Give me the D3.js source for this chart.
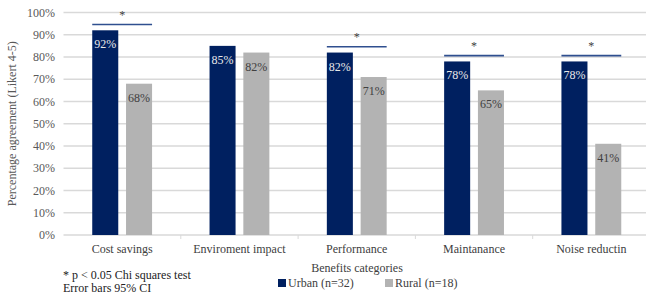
<!DOCTYPE html>
<html>
<head>
<meta charset="utf-8">
<script src="https://cdn.jsdelivr.net/npm/d3@7"></script>
<style>
  body { margin: 0; background: #fff; }
  text { font-family: 'Liberation Serif', 'DejaVu Serif', serif; }
</style>
</head>
<body>
<div id="chart"></div>
<script>
// chart data
const categories = ["Cost savings", "Enviroment impact", "Performance", "Maintanance", "Noise reductin"];
const urban = [92, 85, 82, 78, 78];
const rural = [68, 82, 71, 65, 41];
const significant = [true, false, true, true, true];
const yTicks = [0, 10, 20, 30, 40, 50, 60, 70, 80, 90, 100];
const seriesNames = ["Urban (n=32)", "Rural (n=18)"];

function main() {
    const width = 646;
    const height = 296;

    const urbanColour = "#002060";
    const ruralColour = "#b3b3b3";
    const serif = "'Liberation Serif', 'DejaVu Serif', serif";

    const svg = d3.select("#chart").append("svg")
        .attr("width", width)
        .attr("height", height)
        .attr("font-family", serif);

    const x = d3.scaleBand()
        .domain(categories)
        .range([63.5, 650])
        .paddingInner(0)
        .paddingOuter(0);

    const y = d3.scaleLinear()
        .domain([0, 100])
        .range([235, 12.5]);

    // series within a category
    const xs = d3.scaleBand()
        .domain(["urban", "rural"])
        .range([x.bandwidth() * 0.245, x.bandwidth() * 0.755])
        .paddingInner(0.23);

    // gridlines
    svg.append("g")
        .selectAll("line")
        .data(yTicks.filter(d => d > 0))
        .enter().append("line")
        .attr("x1", 63.5)
        .attr("x2", width)
        .attr("y1", d => y(d))
        .attr("y2", d => y(d))
        .attr("stroke", "#d9d9d9")
        .attr("stroke-width", 1.3);

    // y tick labels
    svg.append("g")
        .selectAll("text")
        .data(yTicks)
        .enter().append("text")
        .attr("x", 55)
        .attr("y", d => y(d))
        .attr("dy", "0.35em")
        .attr("text-anchor", "end")
        .style("font-size", "12px")
        .style("fill", "#595959")
        .text(d => d + "%");

    // x axis
    const xAxis = svg.append("g")
        .attr("transform", "translate(0," + y(0) + ")");
    xAxis.append("line")
        .attr("x1", 63.5).attr("x2", width)
        .attr("stroke", "#d9d9d9").attr("stroke-width", 1.3);
    xAxis.selectAll(".tk")
        .data(categories.slice(1))
        .enter().append("line")
        .attr("x1", d => x(d)).attr("x2", d => x(d))
        .attr("y1", 0).attr("y2", 4)
        .attr("stroke", "#d9d9d9");
    xAxis.selectAll("text")
        .data(categories)
        .enter().append("text")
        .attr("x", d => x(d) + x.bandwidth() / 2)
        .attr("y", 18)
        .attr("text-anchor", "middle")
        .style("font-size", "12px")
        .style("fill", "#404040")
        .text(d => d);

    const rows = categories.map((c, i) => ({ cat: c, urban: urban[i], rural: rural[i], sig: significant[i] }));

    const groups = svg.selectAll(".cat")
        .data(rows)
        .enter().append("g")
        .attr("transform", d => "translate(" + x(d.cat) + ",0)");

    groups.append("rect")
        .attr("x", xs("urban"))
        .attr("width", xs.bandwidth())
        .attr("y", d => y(d.urban))
        .attr("height", d => y(0) - y(d.urban))
        .attr("fill", urbanColour);

    groups.append("rect")
        .attr("x", xs("rural"))
        .attr("width", xs.bandwidth())
        .attr("y", d => y(d.rural))
        .attr("height", d => y(0) - y(d.rural))
        .attr("fill", ruralColour);

    groups.append("text")
        .attr("x", xs("urban") + xs.bandwidth() / 2)
        .attr("y", d => y(d.urban) + 18)
        .attr("text-anchor", "middle")
        .style("font-size", "12px")
        .style("fill", "#e8e8e8")
        .text(d => d.urban + "%");

    groups.append("text")
        .attr("x", xs("rural") + xs.bandwidth() / 2)
        .attr("y", d => y(d.rural) + 18)
        .attr("text-anchor", "middle")
        .style("font-size", "12px")
        .style("fill", "#404040")
        .text(d => d.rural + "%");

    // significance markers
    const sig = groups.filter(d => d.sig);
    sig.append("line")
        .attr("x1", xs("urban"))
        .attr("x2", xs("rural") + xs.bandwidth())
        .attr("y1", d => y(Math.max(d.urban, d.rural) + 2.6))
        .attr("y2", d => y(Math.max(d.urban, d.rural) + 2.6))
        .attr("stroke", "#2f4f8f")
        .attr("stroke-width", 1.6);
    sig.append("text")
        .attr("x", (xs("urban") + xs("rural") + xs.bandwidth()) / 2)
        .attr("y", d => y(Math.max(d.urban, d.rural) + 2.6) - 6)
        .attr("text-anchor", "middle")
        .style("font-size", "12px")
        .style("fill", "#404040")
        .text("*");

    // axis titles
    svg.append("text")
        .attr("transform", "translate(16," + y(50) + ") rotate(-90)")
        .attr("text-anchor", "middle")
        .style("font-size", "12px")
        .style("fill", "#595959")
        .text("Percentage agreement (Likert 4-5)");

    svg.append("text")
        .attr("x", 357)
        .attr("y", 272)
        .attr("text-anchor", "middle")
        .style("font-size", "12px")
        .style("fill", "#404040")
        .text("Benefits categories");

    // footnotes
    svg.append("text")
        .attr("x", 63)
        .attr("y", 279)
        .style("font-size", "12px")
        .style("fill", "#222")
        .text("* p < 0.05 Chi squares test");
    svg.append("text")
        .attr("x", 63)
        .attr("y", 292)
        .style("font-size", "12px")
        .style("fill", "#222")
        .text("Error bars 95% CI");

    // legend
    const legendX = [278, 385];
    const legend = svg.selectAll(".legend")
        .data(seriesNames)
        .enter().append("g")
        .attr("transform", (d, i) => "translate(" + legendX[i] + ",283)");
    legend.append("rect")
        .attr("x", 0).attr("y", -4)
        .attr("width", 8).attr("height", 8)
        .attr("fill", (d, i) => i === 0 ? urbanColour : ruralColour);
    legend.append("text")
        .attr("x", 10)
        .attr("dy", "0.35em")
        .style("font-size", "12px")
        .style("fill", "#404040")
        .text(d => d);
}

main();
</script>
</body>
</html>
